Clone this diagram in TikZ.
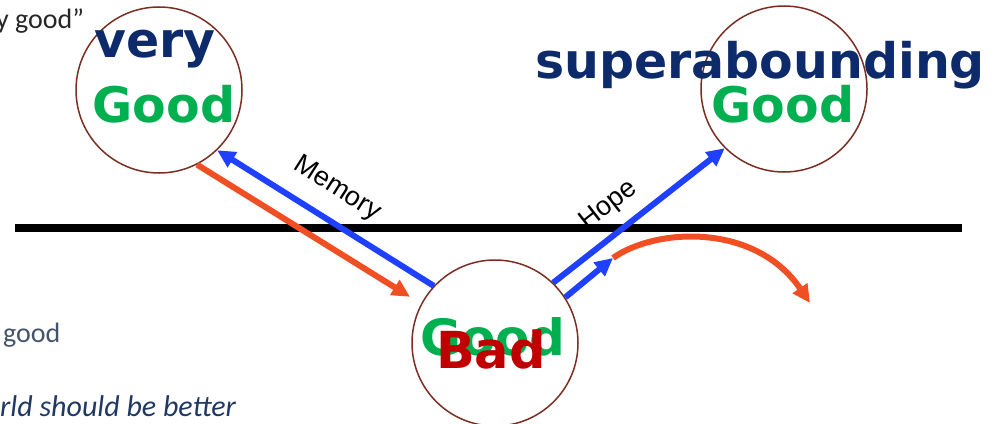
\documentclass[tikz,border=0pt]{standalone}
\usepackage{fontspec}
\setmainfont{Carlito}
\newfontfamily\dvs{DejaVu Sans}
\newfontfamily\lib{Liberation Sans}
\usetikzlibrary{arrows.meta,calc}
\definecolor{navy}{HTML}{0D2A6B}
\definecolor{ggreen}{HTML}{00B050}
\definecolor{bred}{HTML}{C00000}
\definecolor{barrow}{HTML}{2040FF}
\definecolor{oarrow}{HTML}{F04E23}
\definecolor{ring}{HTML}{7A2E22}
\definecolor{slate}{HTML}{44546A}
\definecolor{ital}{HTML}{1F3864}
\begin{document}
\begin{tikzpicture}[x=1pt,y=-1pt,
  ringnode/.style={circle,draw=ring,line width=1.5pt,inner sep=0,minimum size=166pt},
  bigword/.style={font=\dvs\bfseries\fontsize{49}{55}\selectfont,anchor=base,inner sep=0},
  barr/.style={draw=barrow,line width=6pt,-{Triangle[length=18pt,width=17pt]}},
  oarr/.style={draw=oarrow,line width=6pt,-{Triangle[length=18pt,width=17pt]}},
  lbl/.style={font=\lib\fontsize{27}{31}\selectfont,inner sep=0},
  side/.style={anchor=base west,inner sep=0}]
\useasboundingbox (0,0) rectangle (1003,423);
% horizon
\coordinate (hl) at (15,228);
\coordinate (hr) at (962,228);
\draw[line width=8pt] (hl) -- (hr);
% circles
\node[ringnode] (vg) at (159,90) {};
\node[ringnode] (sg) at (784,89) {};
\node[ringnode] (bad) at (495,343) {};
% words
\node[bigword,text=navy] (very) at (155,57) {very};
\node[bigword,text=ggreen] (vgood) at (164,122) {Good};
\node[bigword,text=navy] (super) at (760,78) {superabounding};
\node[bigword,text=ggreen] (sgood) at (783,122) {Good};
\node[bigword,text=ggreen,font=\dvs\bfseries\fontsize{50}{55}\selectfont] (bgood) at (493,355) {Good};
\node[bigword,text=bred,font=\dvs\bfseries\fontsize{51}{55}\selectfont] (bbad) at (491,368) {Bad};
% arrows
\draw[barr] (bad.137) -- (vg.-46);
\draw[oarr,shorten >=13pt] (vg.-63) -- (bad.152);
\draw[barr] (bad.46.5) -- (sg.225);
\coordinate (turn) at (613,258);
\coordinate (fall) at (810,303);
\draw[barr] (bad.33.7) -- (turn);
\draw[oarr] (turn) .. controls (655,228) and (755,222) .. (fall);
% labels
\node[lbl,rotate=-32.5] (mem) at (337,189) {Memory};
\node[lbl,rotate=38] (hope) at (609,206) {Hope};
% side texts
\node[side,font=\fontsize{28}{32}\selectfont,text=black!85] (t1) at (-4,28) {y good”};
\node[side,font=\fontsize{28}{32}\selectfont,text=slate] (t2) at (3,342) {good};
\node[side,font=\itshape\fontsize{30}{34}\selectfont,text=ital] (t3) at (0,416) {rld should be better};
\end{tikzpicture}
\end{document}
